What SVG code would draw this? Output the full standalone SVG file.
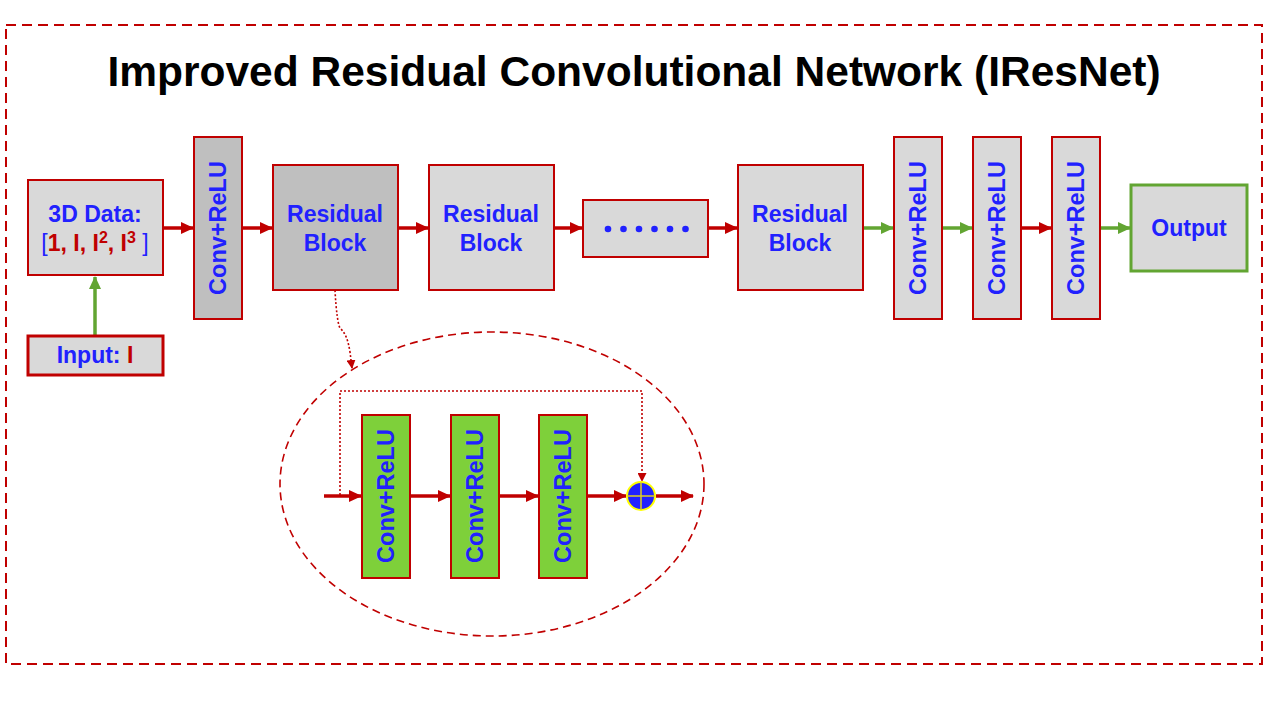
<svg xmlns="http://www.w3.org/2000/svg" width="1280" height="720" viewBox="0 0 1280 720">
<defs>
<marker id="ar" markerUnits="userSpaceOnUse" markerWidth="13" markerHeight="12" refX="12" refY="6" orient="auto"><path d="M0,0 L13,6 L0,12 z" fill="#c00000"/></marker>
<marker id="ag" markerUnits="userSpaceOnUse" markerWidth="13" markerHeight="12" refX="12" refY="6" orient="auto"><path d="M0,0 L13,6 L0,12 z" fill="#62a532"/></marker>
<marker id="as" markerUnits="userSpaceOnUse" markerWidth="9" markerHeight="9" refX="8" refY="4.5" orient="auto"><path d="M0,0 L9,4.5 L0,9 z" fill="#c00000"/></marker>
</defs>
<style>
text{font-family:"Liberation Sans",Arial,sans-serif;font-weight:bold}
.lbl{font-size:23px;fill:#2121ff;text-anchor:middle}
.vl{font-size:23.5px;fill:#2121ff;text-anchor:middle}
.box{fill:#d9d9d9;stroke:#c00000;stroke-width:2}
.dark{fill:#bfbfbf;stroke:#c00000;stroke-width:2}
.gbox{fill:#7ed03a;stroke:#c00000;stroke-width:2}
.r{stroke:#c00000;stroke-width:3.5;fill:none;marker-end:url(#ar)}
.g{stroke:#62a532;stroke-width:3.5;fill:none;marker-end:url(#ag)}
.dot{stroke:#c00000;stroke-width:1.6;fill:none;stroke-dasharray:2,2}
.red{fill:#c00000}
</style>
<rect x="0" y="0" width="1280" height="720" fill="#ffffff"/>
<rect x="6" y="25" width="1256" height="639" fill="none" stroke="#c00000" stroke-width="2" stroke-dasharray="10,6"/>
<text x="634" y="86" font-size="42.5" text-anchor="middle" fill="#000">Improved Residual Convolutional Network (IResNet)</text>

<g id="connectors">
<line class="g" x1="95" y1="336" x2="95" y2="277"/>
<line class="r" x1="163" y1="228" x2="193" y2="228"/>
<line class="r" x1="242" y1="228" x2="272" y2="228"/>
<line class="r" x1="398" y1="228" x2="428" y2="228"/>
<line class="r" x1="554" y1="228" x2="582" y2="228"/>
<line class="r" x1="708" y1="228" x2="737" y2="228"/>
<line class="g" x1="863" y1="228" x2="893" y2="228"/>
<line class="g" x1="942" y1="228" x2="972" y2="228"/>
<line class="r" x1="1021" y1="228" x2="1051" y2="228"/>
<line class="g" x1="1100" y1="228" x2="1130" y2="228"/>
<path class="dot" d="M335,290 C336,310 338,325 340,328 C346,334 348,340 350,352 L352,368" marker-end="url(#as)"/>
<polyline class="dot" points="340,495 340,391 642,391 642,481" marker-end="url(#as)"/>
<line class="r" x1="324" y1="496" x2="361" y2="496"/>
<line class="r" x1="410" y1="496" x2="450" y2="496"/>
<line class="r" x1="499" y1="496" x2="538" y2="496"/>
<line class="r" x1="588" y1="496" x2="626" y2="496"/>
<line class="r" x1="656" y1="496" x2="693" y2="496"/>
</g>

<g id="data3d">
<rect class="box" x="28" y="180" width="135" height="95"/>
<text class="lbl" x="95" y="222">3D Data:</text>
<text class="lbl" x="95" y="251"><tspan font-weight="normal">[</tspan><tspan class="red">1, I, I<tspan font-size="16" dy="-8">2</tspan><tspan dy="8">, I</tspan><tspan font-size="16" dy="-8">3</tspan></tspan><tspan dy="8" font-weight="normal"> ]</tspan></text>
</g>
<g id="input">
<rect x="28" y="336" width="135" height="39" fill="#d9d9d9" stroke="#c00000" stroke-width="3"/>
<text class="lbl" x="95" y="363">Input: <tspan class="red">I</tspan></text>
</g>
<g id="conv1">
<rect class="dark" x="194" y="137" width="48" height="182"/>
<text class="vl" transform="translate(218,228) rotate(-90)" y="8">Conv+ReLU</text>
</g>
<g id="res1">
<rect class="dark" x="273" y="165" width="125" height="125"/>
<text class="lbl" x="335" y="222">Residual</text>
<text class="lbl" x="335" y="251">Block</text>
</g>
<g id="res2">
<rect class="box" x="429" y="165" width="125" height="125"/>
<text class="lbl" x="491" y="222">Residual</text>
<text class="lbl" x="491" y="251">Block</text>
</g>
<g id="dots">
<rect class="box" x="583" y="200" width="125" height="57"/>
<g fill="#2121ff"><circle cx="608" cy="229" r="3.3"/><circle cx="623.5" cy="229" r="3.3"/><circle cx="639" cy="229" r="3.3"/><circle cx="654.5" cy="229" r="3.3"/><circle cx="670" cy="229" r="3.3"/><circle cx="685.5" cy="229" r="3.3"/></g>
</g>
<g id="res3">
<rect class="box" x="738" y="165" width="125" height="125"/>
<text class="lbl" x="800" y="222">Residual</text>
<text class="lbl" x="800" y="251">Block</text>
</g>
<g id="conv2">
<rect class="box" x="894" y="137" width="48" height="182"/>
<text class="vl" transform="translate(918,228) rotate(-90)" y="8">Conv+ReLU</text>
</g>
<g id="conv3">
<rect class="box" x="973" y="137" width="48" height="182"/>
<text class="vl" transform="translate(997,228) rotate(-90)" y="8">Conv+ReLU</text>
</g>
<g id="conv4">
<rect class="box" x="1052" y="137" width="48" height="182"/>
<text class="vl" transform="translate(1076,228) rotate(-90)" y="8">Conv+ReLU</text>
</g>
<g id="output">
<rect x="1131" y="185" width="116" height="86" fill="#d9d9d9" stroke="#62a532" stroke-width="3"/>
<text class="lbl" x="1189" y="236">Output</text>
</g>

<g id="detail">
<ellipse cx="492" cy="484" rx="212" ry="152" fill="none" stroke="#c00000" stroke-width="1.6" stroke-dasharray="8,5"/>
<g id="rconv1">
<rect class="gbox" x="362" y="415" width="48" height="163"/>
<text class="vl" transform="translate(386,496) rotate(-90)" y="8">Conv+ReLU</text>
</g>
<g id="rconv2">
<rect class="gbox" x="451" y="415" width="48" height="163"/>
<text class="vl" transform="translate(475,496) rotate(-90)" y="8">Conv+ReLU</text>
</g>
<g id="rconv3">
<rect class="gbox" x="539" y="415" width="48" height="163"/>
<text class="vl" transform="translate(563,496) rotate(-90)" y="8">Conv+ReLU</text>
</g>
<g id="sum">
<circle cx="641" cy="496" r="14" fill="#2121ff" stroke="#ffff00" stroke-width="2"/>
<path d="M627,496 H655 M641,482 V510" stroke="#e0d020" stroke-width="1.5"/>
</g>
</g>
</svg>
